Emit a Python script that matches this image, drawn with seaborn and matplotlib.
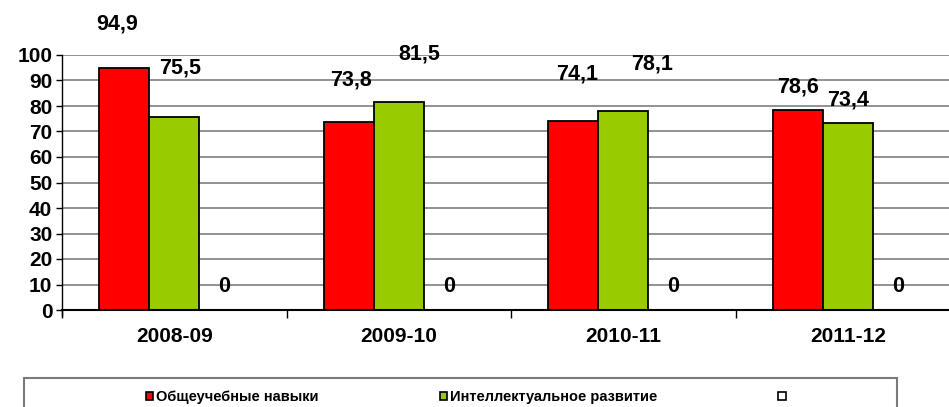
import matplotlib
matplotlib.use("Agg")
import matplotlib.pyplot as plt
from matplotlib.patches import Patch, Rectangle
import numpy as np
import pandas as pd
import seaborn as sns

# data
years = ["2008-09", "2009-10", "2010-11", "2011-12"]
series_names = ["Общеучебные навыки", "Интеллектуальное развитие", "Ряд3"]
general_skills = [94.9, 73.8, 74.1, 78.6]
intellect_dev = [75.5, 81.5, 78.1, 73.4]
third_series = [0, 0, 0, 0]
legend_labels = ["Общеучебные навыки", "Интеллектуальное развитие", ""]

colors = ["#FF0000", "#99CC00", "#FFFFFF"]

# label offsets (pixels, label centre relative to bar top)
label_offsets = [
    [(-7, 44), (2, 42), (4, 47), (0, 23)],
    [(6, 49), (21, 48), (29, 47), (0, 23)],
    [(0, 23), (0, 23), (0, 23), (0, 23)],
]

df = pd.DataFrame({
    "year": years * 3,
    "series": np.repeat(series_names, len(years)),
    "value": general_skills + intellect_dev + third_series,
})

sns.set_theme(style="white")
plt.rcParams["font.family"] = ["Liberation Sans", "DejaVu Sans"]
plt.rcParams["font.weight"] = "bold"
plt.rcParams["text.color"] = "black"
plt.rcParams["xtick.color"] = "black"
plt.rcParams["ytick.color"] = "black"
plt.rcParams["xtick.labelcolor"] = "black"
plt.rcParams["ytick.labelcolor"] = "black"

W, H = 949, 407
fig = plt.figure(figsize=(W / 100, H / 100), dpi=100)
ax = fig.add_axes([62 / W, (H - 310) / H, (W - 62) / W, 255 / H])

sns.barplot(data=df, x="year", y="value", hue="series", hue_order=series_names,
            palette=dict(zip(series_names, colors)), width=0.668, saturation=1,
            edgecolor="black", linewidth=1.3, errorbar=None, legend=False, ax=ax)

ax.set_ylim(0, 100)
ax.set_xlim(-0.5, 3.451)
ax.set_yticks(range(0, 101, 10))
ax.set_xlabel("")
ax.set_ylabel("")

ax.set_axisbelow(True)
ax.yaxis.grid(True, color="#7f7f7f", linewidth=1.2)
ax.xaxis.grid(False)

for side in ["top", "right"]:
    ax.spines[side].set_visible(False)
ax.spines["bottom"].set_color("black")
ax.spines["bottom"].set_linewidth(1.5)
ax.spines["left"].set_color("black")
ax.spines["left"].set_linewidth(1.0)
ax.spines["left"].set_bounds(-2.5, 100)

ax.tick_params(axis="y", which="major", left=True, length=4, width=1, pad=3,
               labelsize=15, color="black", labelcolor="black")
ax.tick_params(axis="x", which="major", bottom=True, length=0, pad=12.5,
               labelsize=15, labelcolor="black")
ax.set_xticks([-0.5, 0.5, 1.5, 2.5], minor=True)
ax.tick_params(axis="x", which="minor", bottom=True, length=6, width=1, color="black",
               direction="out")
for lbl in ax.get_xticklabels() + ax.get_yticklabels():
    lbl.set_fontweight("bold")

# value labels
for cont, offs in zip(ax.containers, label_offsets):
    for bar, (dx, dy) in zip(cont, offs):
        x = bar.get_x() + bar.get_width() / 2
        h = bar.get_height()
        txt = f"{h:.1f}".replace(".", ",") if h != 0 else "0"
        ax.annotate(txt, (x, h), xytext=(dx, dy), textcoords="offset pixels",
                    ha="center", va="center", fontsize=15.5, fontweight="bold",
                    color="black", annotation_clip=False)

# legend with frame cut at bottom
fig.add_artist(Rectangle((24 / W, -0.05), (897 - 24) / W, 0.05 + (H - 378) / H,
                         transform=fig.transFigure, fill=False,
                         edgecolor="#7a7a7a", linewidth=1.5))
handles = [Patch(facecolor=c, edgecolor="black", linewidth=1.2) for c in colors]
leg = fig.legend(handles, legend_labels, loc="center left",
                 bbox_to_anchor=(146 / W, (H - 397) / H), ncol=3, frameon=False,
                 handlelength=0.5, handleheight=0.5, handletextpad=0.2,
                 columnspacing=8.3, borderpad=0, borderaxespad=0,
                 prop={"weight": "bold", "size": 10.5})
for t in leg.get_texts():
    t.set_color("black")

fig.savefig("out.png", dpi=100)
